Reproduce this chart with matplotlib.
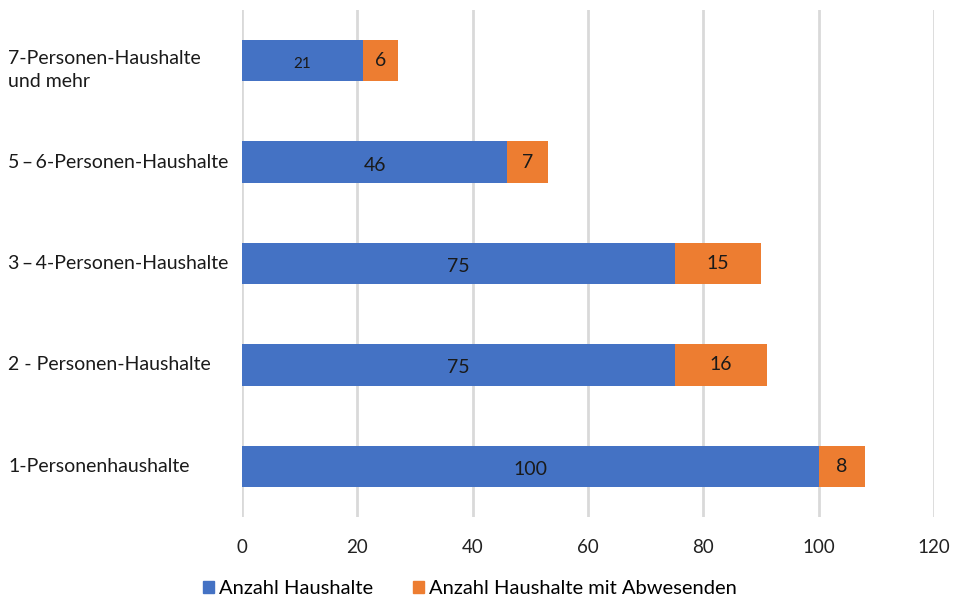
import matplotlib
matplotlib.use('Agg')
import matplotlib.pyplot as plt
from matplotlib.patches import Patch
from matplotlib.transforms import blended_transform_factory

plt.rcParams['font.family'] = ['Lato', 'DejaVu Sans']

# Haushaltsgrößen (von unten nach oben)
kategorien = ['1-Personenhaushalte', '2 - Personen-Haushalte', '3\u2009–\u20094-Personen-Haushalte',
              '5\u2009–\u20096-Personen-Haushalte', '7-Personen-Haushalte\nund mehr']
haushalte = [100, 75, 75, 46, 21]
mit_abwesenden = [8, 16, 15, 7, 6]
xticks = [0, 20, 40, 60, 80, 100, 120]

blau = '#4472C4'
orange = '#ED7D31'

fig = plt.figure(figsize=(9.59, 6.02), dpi=100)
ax = fig.add_axes([242 / 959, 1 - 517 / 602, 692 / 959, 507 / 602])

y = list(range(len(kategorien)))
ax.barh(y, haushalte, height=0.41, color=blau, zorder=3)
ax.barh(y, mit_abwesenden, left=haushalte, height=0.41, color=orange, zorder=3)

for i in y:
    fs = 11 if haushalte[i] < 30 else 14
    ax.text(haushalte[i] / 2, i - 0.03, str(haushalte[i]), ha='center', va='center',
            fontsize=fs, color='#1a1a1a', zorder=4)
    ax.text(haushalte[i] + mit_abwesenden[i] / 2, i, str(mit_abwesenden[i]),
            ha='center', va='center', fontsize=14, color='#1a1a1a', zorder=4)

# Kategorienamen links, linksbündig
tr = blended_transform_factory(fig.transFigure, ax.transData)
for i, name in enumerate(kategorien):
    yy = i - 0.09 if '\n' in name else i
    ax.text(8 / 959, yy, name, transform=tr, ha='left', va='center', fontsize=14,
            color='#1a1a1a', linespacing=1.45)

ax.set_xlim(0, 120)
ax.set_ylim(-0.5, 4.5)
ax.set_xticks(xticks)
ax.set_xticklabels([str(v) for v in xticks], fontsize=13.5, color='#222222')
ax.set_yticks([])
ax.tick_params(axis='x', length=0, pad=16)

ax.grid(axis='x', color='#D9D9D9', linewidth=2, zorder=0)
for s in ax.spines.values():
    s.set_visible(False)

handles = [Patch(color=blau, label='Anzahl Haushalte'),
           Patch(color=orange, label='Anzahl Haushalte mit Abwesenden')]
fig.legend(handles=handles, loc='center', bbox_to_anchor=(0.49, 1 - 589 / 602),
           ncol=2, frameon=False, fontsize=14.5, handlelength=0.55, handleheight=0.55,
           handletextpad=0.25, columnspacing=2.0)

fig.savefig('out.png', dpi=100)
